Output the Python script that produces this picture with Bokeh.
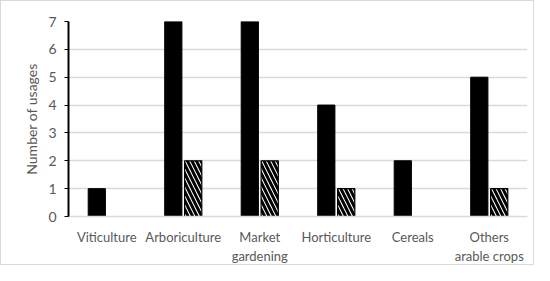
from bokeh.plotting import figure
from bokeh.models import ColumnDataSource, FactorRange, Range1d, FixedTicker
from bokeh.transform import dodge
from bokeh.embed import file_html
from bokeh.resources import INLINE

categories = ["Viticulture", "Arboriculture", "Market\ngardening", "Horticulture", "Cereals", "Others\narable crops"]
series_a = [1, 7, 7, 4, 2, 5]
series_b = [0, 2, 2, 1, 0, 1]
y_ticks = [0, 1, 2, 3, 4, 5, 6, 7]

src_a = ColumnDataSource(dict(x=[c for c, v in zip(categories, series_a) if v > 0],
                              top=[v for v in series_a if v > 0]))
src_b = ColumnDataSource(dict(x=[c for c, v in zip(categories, series_b) if v > 0],
                              top=[v for v in series_b if v > 0]))

FONT = "Lato"
GRAY = "#595959"

p = figure(width=534, height=265, x_range=FactorRange(*categories, range_padding=0),
           y_range=Range1d(0, 7), output_backend="svg", toolbar_location=None,
           min_border_left=67, min_border_right=8, min_border_top=20, min_border_bottom=36)
p.styles = {"border": "1px solid #d9d9d9"}
p.outline_line_color = None

p.vbar(x=dodge("x", -0.13, range=p.x_range), top="top", width=0.225, source=src_a,
       fill_color="black", line_color="black")
p.vbar(x=dodge("x", 0.13, range=p.x_range), top="top", width=0.225, source=src_b,
       fill_color="white", line_color="black", line_width=1.2,
       hatch_pattern="\\", hatch_color="black", hatch_weight=3, hatch_scale=9)

p.xgrid.grid_line_color = None
p.ygrid.grid_line_color = "#d9d9d9"
p.ygrid.grid_line_width = 1.5
p.ygrid.ticker = FixedTicker(ticks=y_ticks)

p.yaxis.ticker = FixedTicker(ticks=y_ticks)
p.yaxis.axis_line_color = "black"
p.yaxis.axis_line_width = 2
p.yaxis.major_tick_line_color = "black"
p.yaxis.major_tick_out = 4
p.yaxis.major_tick_in = 0
p.yaxis.minor_tick_line_color = None
p.yaxis.major_label_text_font = FONT
p.yaxis.major_label_text_font_size = "14px"
p.yaxis.major_label_text_color = GRAY
p.yaxis.major_label_standoff = 8
p.yaxis.axis_label = "Number of usages"
p.yaxis.axis_label_text_font = FONT
p.yaxis.axis_label_text_font_size = "14px"
p.yaxis.axis_label_text_font_style = "normal"
p.yaxis.axis_label_text_color = GRAY
p.yaxis.axis_label_standoff = 5

p.xaxis.axis_line_color = "#d9d9d9"
p.xaxis.axis_line_width = 1.5
p.xaxis.major_tick_line_color = None
p.xaxis.minor_tick_line_color = None
p.xaxis.major_label_text_font = FONT
p.xaxis.major_label_text_font_size = "13px"
p.xaxis.major_label_text_color = GRAY
p.xaxis.major_label_standoff = 6

open("out.html", "w").write(file_html(p, INLINE))
